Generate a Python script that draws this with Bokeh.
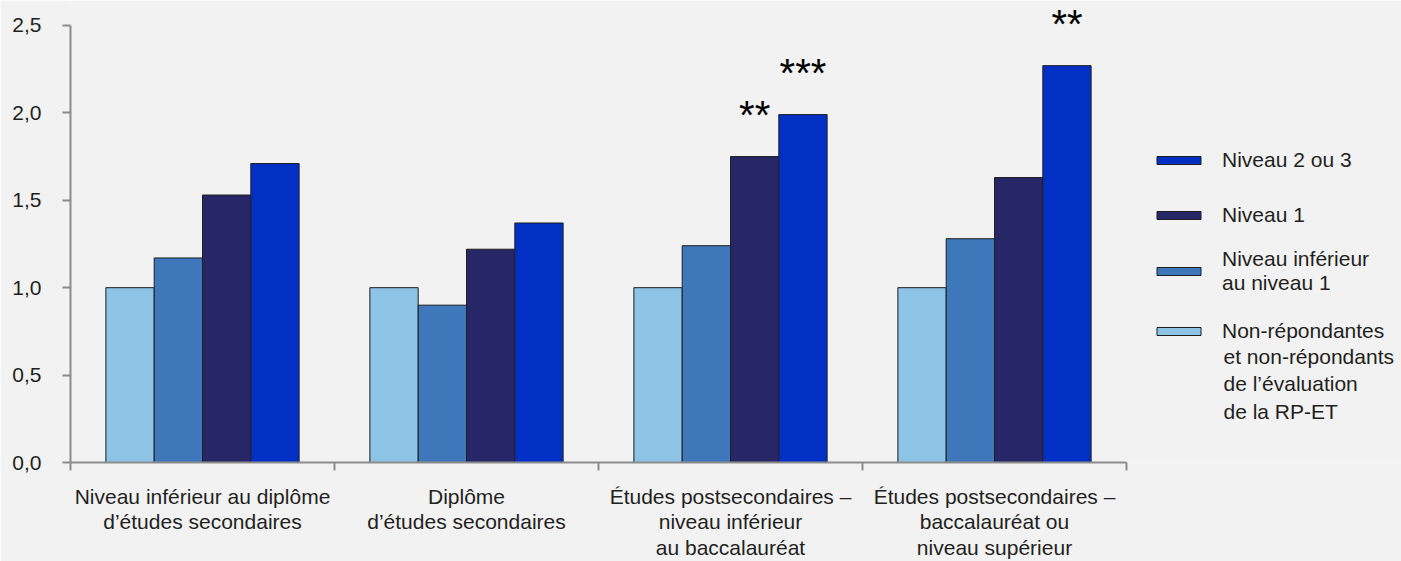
from bokeh.plotting import figure
from bokeh.models import (ColumnDataSource, Range1d, FixedTicker, CustomJSTickFormatter,
                          Legend, LegendItem, Label)
from bokeh.core.properties import value
from bokeh.embed import file_html
from bokeh.resources import INLINE

# ---- data ----
groups = [
    "Niveau inférieur au diplôme\nd’études secondaires",
    "Diplôme\nd’études secondaires",
    "Études postsecondaires –\nniveau inférieur\nau baccalauréat",
    "Études postsecondaires –\nbaccalauréat ou\nniveau supérieur",
]
series_names = [
    "Non-répondantes\net non-répondants\nde l’évaluation\nde la RP-ET",
    "Niveau inférieur\nau niveau 1",
    "Niveau 1",
    "Niveau 2 ou 3",
]
non_repondants = [1.00, 1.00, 1.00, 1.00]
inferieur_niveau1 = [1.17, 0.90, 1.24, 1.28]
niveau1 = [1.53, 1.22, 1.75, 1.63]
niveau2_3 = [1.71, 1.37, 1.99, 2.27]
sig_non_repondants = ["", "", "", ""]
sig_inferieur_niveau1 = ["", "", "", ""]
sig_niveau1 = ["", "", "**", ""]
sig_niveau2_3 = ["", "", "***", "**"]
y_ticks = [0.0, 0.5, 1.0, 1.5, 2.0, 2.5]

series_values = [non_repondants, inferieur_niveau1, niveau1, niveau2_3]
series_sig = [sig_non_repondants, sig_inferieur_niveau1, sig_niveau1, sig_niveau2_3]
colors = ["#8DC4E6", "#3E78BA", "#272666", "#0330C4"]

# ---- style ----
FONT = "Liberation Sans"
TXT = "#231F20"
AXC = "#8C8C8C"
BG = "#F2F2F2"
BAR_W = 0.183
PX_PER_GROUP = 264.0
PX_PER_UNIT_Y = 175.2
W, H = 1401, 561
LEFT, BOTTOM = 70, 98
FRAME_W = W - LEFT
FRAME_H = H - BOTTOM

p = figure(width=W, height=H,
           x_range=Range1d(0, FRAME_W / PX_PER_GROUP),
           y_range=Range1d(0, FRAME_H / PX_PER_UNIT_Y),
           output_backend="svg", toolbar_location=None,
           min_border_left=LEFT, min_border_right=0, min_border_top=0, min_border_bottom=BOTTOM,
           background_fill_color=BG, border_fill_color=BG, outline_line_color=None)
p.xgrid.visible = False
p.ygrid.visible = False

renderers = []
for i, (vals, sig, col) in enumerate(zip(series_values, series_sig, colors)):
    xs = [g + 0.5 + (i - 1.5) * BAR_W for g in range(len(groups))]
    src = ColumnDataSource(dict(x=xs, top=vals))
    r = p.vbar(x="x", top="top", width=BAR_W, bottom=0, source=src,
               fill_color=col, line_color="#1E1E1E", line_width=1)
    renderers.append(r)
    tx = [x for x, s in zip(xs, sig) if s]
    ty = [v for v, s in zip(vals, sig) if s]
    tt = [s for s in sig if s]
    if tt:
        p.text(x=tx, y=ty, text=tt, text_align="center", text_baseline="alphabetic",
               y_offset=-42, text_font=value(FONT), text_font_size="40px", text_color="#000000")

# x axis
xa = p.xaxis[0]
xa.ticker = FixedTicker(ticks=[g + 0.5 for g in range(len(groups))],
                        minor_ticks=list(range(len(groups) + 1)))
xa.formatter = CustomJSTickFormatter(args=dict(labels=groups),
                                     code="return labels[Math.floor(tick)]")
xa.bounds = (0, len(groups))
xa.axis_line_color = AXC
xa.axis_line_width = 2
xa.major_tick_out = 0
xa.major_tick_in = 0
xa.minor_tick_out = 8
xa.minor_tick_in = 0
xa.minor_tick_line_color = AXC
xa.minor_tick_line_width = 2
xa.major_label_standoff = 14
xa.major_label_text_font = FONT
xa.major_label_text_font_size = "21px"
xa.major_label_text_line_height = 1.11
xa.major_label_text_color = TXT

# y axis
ya = p.yaxis[0]
ya.ticker = FixedTicker(ticks=y_ticks, minor_ticks=[])
ya.formatter = CustomJSTickFormatter(code="return tick.toFixed(1).replace('.', ',')")
ya.bounds = (0, 2.5)
ya.axis_line_color = AXC
ya.axis_line_width = 2
ya.major_tick_line_color = AXC
ya.major_tick_line_width = 2
ya.major_tick_out = 8
ya.major_tick_in = 0
ya.minor_tick_out = 0
ya.minor_tick_in = 0
ya.major_label_standoff = 21
ya.major_label_text_font = FONT
ya.major_label_text_font_size = "21px"
ya.major_label_text_color = TXT

# legend: one small legend per entry so that each can be placed
LEG_X = 1081
first_lines = [n.split("\n")[0] for n in series_names]
leg_specs = [
    (3, series_names[3], 290, 1.2),
    (2, series_names[2], 235, 1.2),
    (1, series_names[1], 167, 0.92),
    (0, first_lines[0], 119, 1.2),
]
for idx, lab, ly, lh in leg_specs:
    leg = Legend(items=[LegendItem(label=lab, renderers=[renderers[idx]])],
                 location=(LEG_X, ly), glyph_width=55, glyph_height=10,
                 label_standoff=16, spacing=0, padding=0, margin=0,
                 border_line_alpha=0, background_fill_alpha=0,
                 label_text_font=FONT, label_text_font_size="21px",
                 label_text_line_height=lh, label_text_color=TXT)
    p.add_layout(leg)

rest = "\n".join(series_names[0].split("\n")[1:])
p.add_layout(Label(x=(1223 - LEFT) / PX_PER_GROUP, y=(463 - 345) / PX_PER_UNIT_Y, text=rest,
                   text_baseline="top", text_align="left", text_font=FONT,
                   text_font_size="21px", text_line_height=1.2, text_color=TXT))

open("out.html", "w").write(file_html(p, INLINE))
